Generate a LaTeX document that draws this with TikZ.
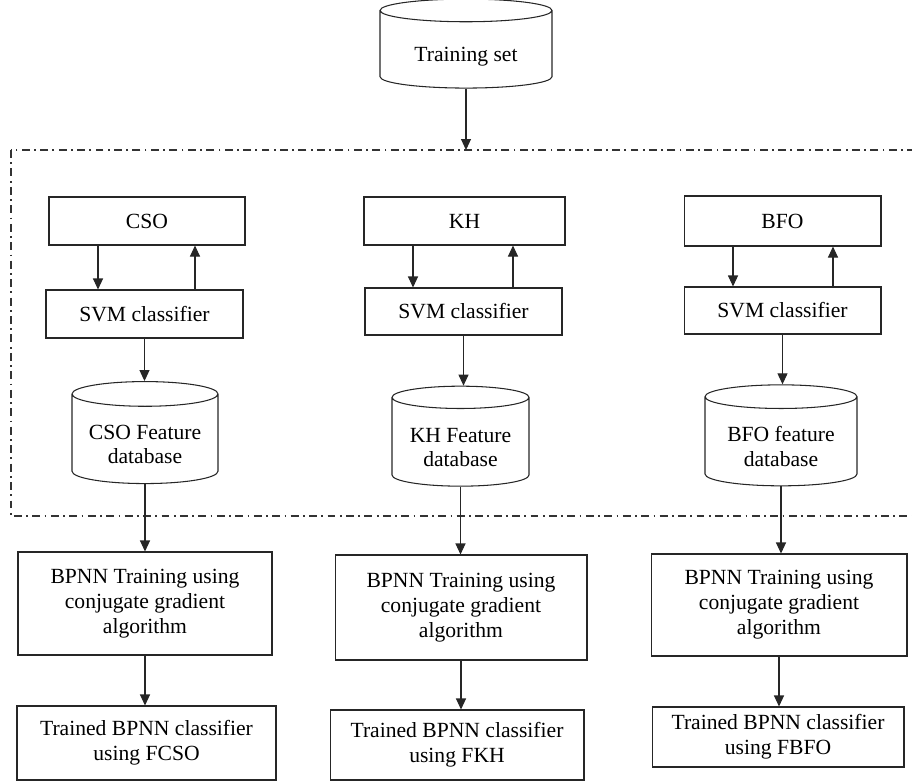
\documentclass[tikz,border=0pt]{standalone}
\usepackage{fontspec}
\setmainfont{Liberation Serif}
\usetikzlibrary{shapes,arrows.meta,positioning}
\newcommand{\lowtext}[1]{\raisebox{-0.15cm}[\height][\depth]{\begin{tabular}{@{}c@{}}#1\end{tabular}}}

\begin{document}
\begin{tikzpicture}[x=0.02cm, y=-0.02cm, >={Triangle[length=2.2mm, width=2mm]}]
			\tikzstyle{Block}	= [rectangle, draw=black!85, line width=0.6pt, align=center, inner sep=0pt, font=\fontsize{12.3}{14.2}\selectfont]
			\tikzstyle{Store}	= [cylinder, shape border rotate=90, aspect=0.22, draw=black!85, line width=0.6pt, align=center, inner sep=0pt, font=\fontsize{12.3}{14.2}\selectfont]
			\tikzstyle{Flow}	= [draw=black!85, line width=0.6pt]
			\tikzstyle{Frame}	= [draw=black!80, line width=0.6pt, dash pattern=on 4.5pt off 2.5pt on 1pt off 2.5pt]

			\useasboundingbox (0,0) rectangle (912,782);

			% input
			\node (train) at (466,49.5) [Store, minimum width=3.44cm, minimum height=1.78cm] {\lowtext{Training set}};
			\coordinate (frametop) at (466,150);
			\draw [Frame] (11,150) rectangle (918,516);

			% CSO column
			\node (cso) at (147,221) [Block, minimum width=3.92cm, minimum height=0.96cm] {CSO};
			\node (svm1) at (144.5,314) [Block, minimum width=3.94cm, minimum height=0.96cm] {SVM classifier};
			\node (db1) at (145,439) [Store, minimum width=2.92cm, minimum height=2.04cm] {\lowtext{CSO Feature\\database}};
			\node (bp1) at (145,603.5) [Block, minimum width=5.08cm, minimum height=2.06cm] {BPNN Training using\\conjugate gradient\\algorithm};
			\node (tr1) at (146.5,743) [Block, minimum width=5.18cm, minimum height=1.48cm] {Trained BPNN classifier\\using FCSO};

			% KH column
			\node (kh) at (464.5,221) [Block, minimum width=4.02cm, minimum height=0.96cm] {KH};
			\node (svm2) at (463.5,311.5) [Block, minimum width=3.94cm, minimum height=0.94cm] {SVM classifier};
			\node (db2) at (460.5,442) [Store, minimum width=2.74cm, minimum height=2cm] {\lowtext{KH Feature\\database}};
			\node (bp2) at (461,607.5) [Block, minimum width=5.04cm, minimum height=2.1cm] {BPNN Training using\\conjugate gradient\\algorithm};
			\node (tr2) at (457,745) [Block, minimum width=5.08cm, minimum height=1.4cm] {Trained BPNN classifier\\using FKH};

			% BFO column
			\node (bfo) at (782.5,221) [Block, minimum width=3.94cm, minimum height=1cm] {BFO};
			\node (svm3) at (782.5,310.5) [Block, minimum width=3.94cm, minimum height=0.94cm] {SVM classifier};
			\node (db3) at (781,441.5) [Store, minimum width=3.04cm, minimum height=2.02cm] {\lowtext{BFO feature\\database}};
			\node (bp3) at (779,605) [Block, minimum width=5.12cm, minimum height=2.04cm] {BPNN Training using\\conjugate gradient\\algorithm};
			\node (tr3) at (778,737) [Block, minimum width=5.04cm, minimum height=1.2cm] {Trained BPNN classifier\\using FBFO};

			\draw [->] (train) to (frametop) [Flow];

			\draw [->] ([xshift=-0.98cm]cso.south) to ([xshift=-0.98cm]cso.south |- svm1.north) [Flow];
			\draw [->] ([xshift=0.96cm]cso.south |- svm1.north) to ([xshift=0.96cm]cso.south) [Flow];
			\draw [->] (svm1.south) to (svm1.south |- db1.north) [Flow];
			\draw [->] (db1.south) to (db1.south |- bp1.north) [Flow];
			\draw [->] (bp1.south) to (bp1.south |- tr1.north) [Flow];

			\draw [->] ([xshift=-1.03cm]kh.south) to ([xshift=-1.03cm]kh.south |- svm2.north) [Flow];
			\draw [->] ([xshift=0.97cm]kh.south |- svm2.north) to ([xshift=0.97cm]kh.south) [Flow];
			\draw [->] (svm2.south) to (svm2.south |- db2.north) [Flow];
			\draw [->] (db2.south) to (db2.south |- bp2.north) [Flow];
			\draw [->] (bp2.south) to (bp2.south |- tr2.north) [Flow];

			\draw [->] ([xshift=-0.99cm]bfo.south) to ([xshift=-0.99cm]bfo.south |- svm3.north) [Flow];
			\draw [->] ([xshift=1.01cm]bfo.south |- svm3.north) to ([xshift=1.01cm]bfo.south) [Flow];
			\draw [->] (svm3.south) to (svm3.south |- db3.north) [Flow];
			\draw [->] (db3.south) to (db3.south |- bp3.north) [Flow];
			\draw [->] (bp3.south) to (bp3.south |- tr3.north) [Flow];
		\end{tikzpicture}
\end{document}
